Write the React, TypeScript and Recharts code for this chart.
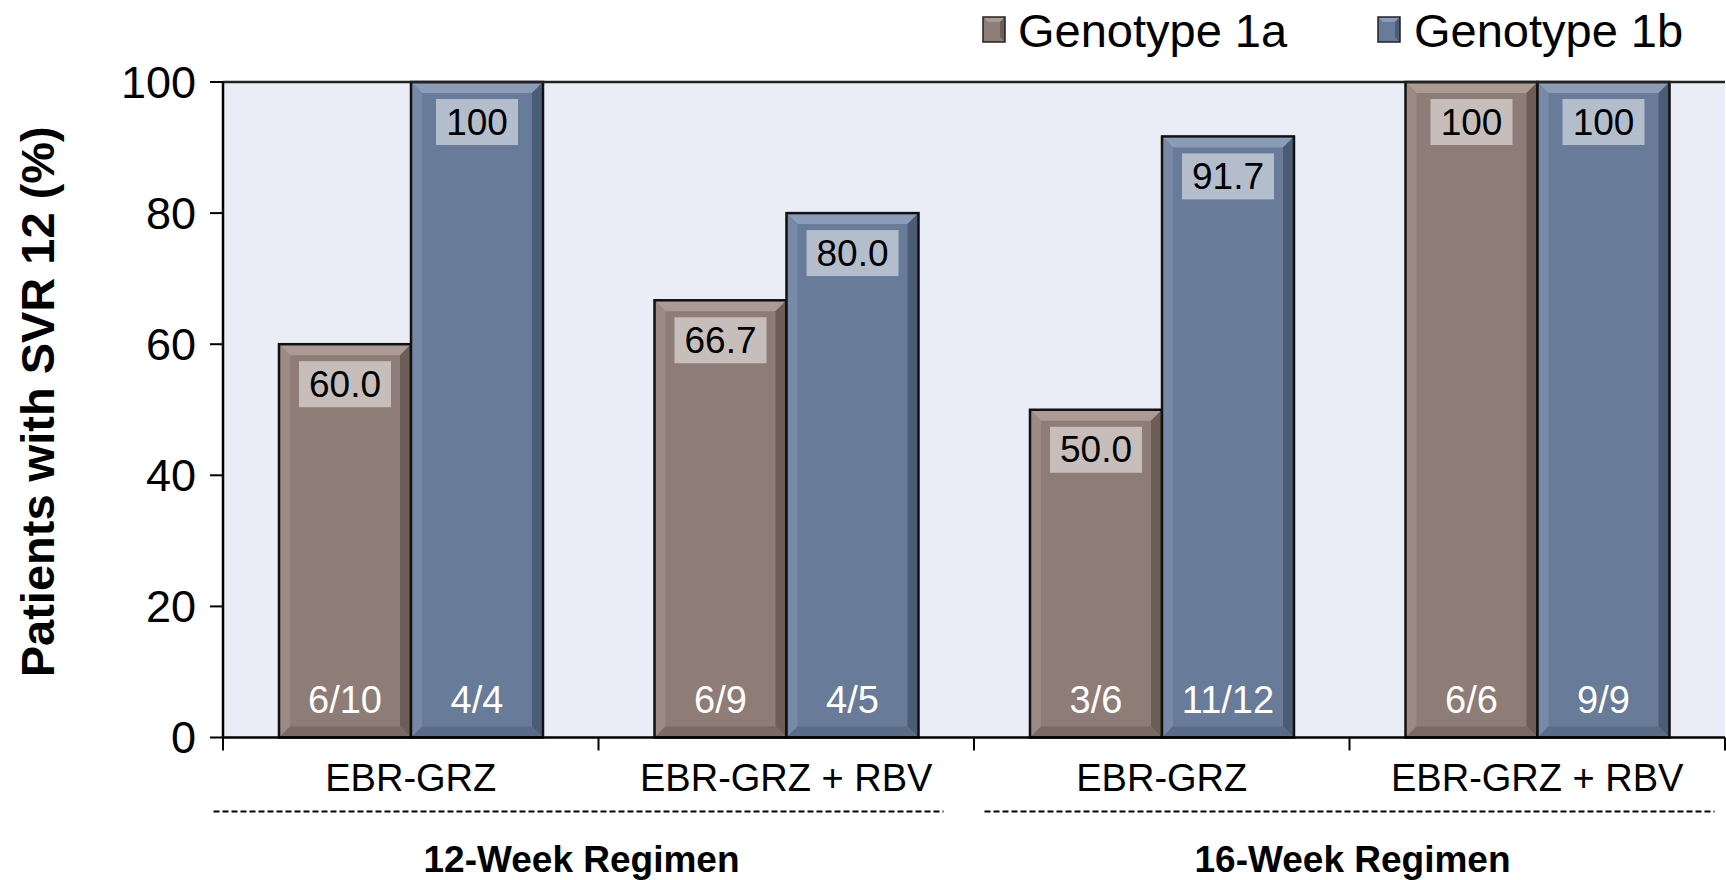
import React from 'react';
import { BarChart, Bar, XAxis, YAxis, CartesianGrid, Legend, LabelList, ReferenceLine } from 'recharts';

const categories = ['EBR-GRZ', 'EBR-GRZ + RBV', 'EBR-GRZ', 'EBR-GRZ + RBV'];
const regimens = ['12-Week Regimen', '12-Week Regimen', '16-Week Regimen', '16-Week Regimen'];
const genotype1a = [60.0, 66.7, 50.0, 100];
const genotype1b = [100, 80.0, 91.7, 100];
const ratio1a = ['6/10', '6/9', '3/6', '6/6'];
const ratio1b = ['4/4', '4/5', '11/12', '9/9'];
const yTicks = [0, 20, 40, 60, 80, 100];
const boundaryTicks = [0, 1, 2, 3, 4];
const seriesNames = ['Genotype 1a', 'Genotype 1b'];

const data = categories.map((c, i) => ({
  category: c,
  regimen: regimens[i],
  pos: i + 0.5,
  g1a: genotype1a[i],
  g1b: genotype1b[i],
  r1a: ratio1a[i],
  r1b: ratio1b[i],
}));

const FONT = "'Liberation Sans', Arial, Helvetica, sans-serif";
const NARROW = "'Liberation Sans Narrow', 'Arial Narrow', 'Liberation Sans', sans-serif";

const BROWN = { main: '#8e7c76', top: '#ac9b95', left: '#9c8a84', right: '#6c5d58', bottom: '#7a6a65' };
const BLUE = { main: '#687b99', top: '#8c9cb8', left: '#7789a6', right: '#4d5c75', bottom: '#5b6c88' };

const makeBevel = (c: any) => (props: any) => {
  const { x, y, width: w, height: h } = props;
  if (!h || h <= 0) return null;
  const b = 11;
  return (
    <g>
      <rect x={x} y={y} width={w} height={h} fill={c.main} />
      <polygon points={`${x},${y} ${x + w},${y} ${x + w - b},${y + b} ${x + b},${y + b}`} fill={c.top} />
      <polygon points={`${x},${y} ${x + b},${y + b} ${x + b},${y + h - b} ${x},${y + h}`} fill={c.left} />
      <polygon points={`${x + w},${y} ${x + w},${y + h} ${x + w - b},${y + h - b} ${x + w - b},${y + b}`} fill={c.right} />
      <polygon points={`${x},${y + h} ${x + w},${y + h} ${x + w - b},${y + h - b} ${x + b},${y + h - b}`} fill={c.bottom} />
      <rect x={x} y={y} width={w} height={h} fill="none" stroke="#111" strokeWidth={2.5} />
    </g>
  );
};

const ValueLabel = (props: any) => {
  const { x, y, width, value } = props;
  const text = value === 100 ? '100' : Number(value).toFixed(1);
  const digits = text.replace('.', '').length;
  const bw = digits * 21 + (text.includes('.') ? 10 : 0) + 19;
  const bh = 46;
  const cx = x + width / 2;
  const top = y + 17;
  return (
    <g>
      <rect x={cx - bw / 2} y={top} width={bw} height={bh} fill="#ffffff" fillOpacity={0.5} />
      <text x={cx} y={top + bh / 2} textAnchor="middle" dominantBaseline="central" fontSize={37} fontFamily={FONT} fill="#000">
        {text}
      </text>
    </g>
  );
};

const RatioLabel = (props: any) => {
  const { x, y, width, height, value } = props;
  return (
    <text x={x + width / 2} y={y + height - 38} textAnchor="middle" dominantBaseline="central" fontSize={38} fontFamily={FONT} fill="#ffffff">
      {value}
    </text>
  );
};

const CategoryTick = (props: any) => {
  const { x, y, payload } = props;
  return (
    <text x={x} y={y + 39} textAnchor="middle" dominantBaseline="central" fontSize={38} fontFamily={NARROW} fill="#000">
      {payload.value}
    </text>
  );
};

const EmptyTick = () => <g />;

const groupOffsets = [-20, 0];
const GroupTick = (props: any) => {
  const { x, y, payload, index } = props;
  const dx = groupOffsets[index] || 0;
  const cx = x + dx;
  return (
    <g>
      <line x1={cx - 365} x2={cx + 365} y1={y + 12} y2={y + 12} stroke="#000" strokeWidth={2} strokeDasharray="6 3" />
      <text x={cx + 3} y={y + 60} textAnchor="middle" dominantBaseline="central" fontSize={37} fontWeight="bold" fontFamily={FONT} fill="#000">
        {payload.value}
      </text>
    </g>
  );
};

const legendMarkerX = [983, 1378];
const legendTextX = [1018, 1414];
const legendColors = [BROWN, BLUE];

const LegendContent = (props: any) => {
  const { payload } = props;
  return (
    <div style={{ position: 'relative', height: 0 }}>
      <svg width={1726} height={70} style={{ position: 'absolute', left: 0, top: 0, overflow: 'visible' }}>
        {(payload || []).map((p: any, i: number) => {
          const c = legendColors[i];
          const mx = legendMarkerX[i];
          const my = 17;
          const w = 22;
          const h = 25;
          const b = 5;
          return (
            <g key={i}>
              <rect x={mx} y={my} width={w} height={h} fill={c.main} />
              <polygon points={`${mx},${my} ${mx + w},${my} ${mx + w - b},${my + b} ${mx + b},${my + b}`} fill={c.top} />
              <polygon points={`${mx + w},${my} ${mx + w},${my + h} ${mx + w - b},${my + h - b} ${mx + w - b},${my + b}`} fill={c.right} />
              <rect x={mx} y={my} width={w} height={h} fill="none" stroke="#222" strokeWidth={1.5} />
              <text x={legendTextX[i]} y={my + h / 2 + 1} dominantBaseline="central" fontSize={47} fontFamily={FONT} fill="#000">
                {p.value}
              </text>
            </g>
          );
        })}
      </svg>
    </div>
  );
};

const YLabel = (props: any) => {
  const { viewBox } = props;
  const cy = viewBox.y + viewBox.height / 2 - 8;
  const cx = 37;
  return (
    <text x={cx} y={cy} transform={`rotate(-90, ${cx}, ${cy})`} textAnchor="middle" dominantBaseline="central" fontSize={47} fontWeight="bold" fontFamily={FONT} fill="#000">
      Patients with SVR 12 (%)
    </text>
  );
};

export default function App() {
  return (
    <div style={{ position: 'fixed', left: 0, top: 0, width: 1726, height: 880, background: '#fff' }}>
      <BarChart width={1726} height={880} data={data} margin={{ top: 82, right: 1, bottom: 0, left: 0 }} barGap={0} barSize={132}>
        <CartesianGrid horizontal={false} vertical={false} fill="#eaedf5" xAxisId="b_cat" />
        <XAxis
          xAxisId="a_grid"
          dataKey="pos"
          type="number"
          domain={[0, 4]}
          ticks={boundaryTicks}
          tick={<EmptyTick />}
          tickSize={13}
          height={1}
          interval={0}
          axisLine={{ stroke: '#000', strokeWidth: 2.5 }}
          tickLine={{ stroke: '#000', strokeWidth: 2 }}
        />
        <XAxis
          xAxisId="b_cat"
          dataKey="category"
          axisLine={false}
          tickLine={false}
          tickSize={0}
          tickMargin={0}
          height={61}
          interval={0}
          tick={<CategoryTick />}
        />
        <XAxis
          xAxisId="c_grp"
          dataKey="regimen"
          allowDuplicatedCategory={false}
          axisLine={false}
          tickLine={false}
          tickSize={0}
          tickMargin={0}
          height={80.5}
          interval={0}
          tick={<GroupTick />}
        />
        <YAxis
          domain={[0, 100]}
          ticks={yTicks}
          width={223}
          tickSize={13}
          tickMargin={14}
          axisLine={{ stroke: '#000', strokeWidth: 2.5 }}
          tickLine={{ stroke: '#000', strokeWidth: 2 }}
          tick={{ fontSize: 45, fill: '#000', fontFamily: FONT }}
          label={<YLabel />}
        />
        <ReferenceLine xAxisId="b_cat" y={100} stroke="#222" strokeWidth={2.5} />
        <Legend verticalAlign="top" wrapperStyle={{ top: 0, left: 0, width: 1726, height: 0 }} content={<LegendContent />} />
        <Bar xAxisId="b_cat" dataKey="g1a" name={seriesNames[0]} fill={BROWN.main} shape={makeBevel(BROWN)} isAnimationActive={false}>
          <LabelList dataKey="g1a" content={<ValueLabel />} />
          <LabelList dataKey="r1a" content={<RatioLabel />} />
        </Bar>
        <Bar xAxisId="b_cat" dataKey="g1b" name={seriesNames[1]} fill={BLUE.main} shape={makeBevel(BLUE)} isAnimationActive={false}>
          <LabelList dataKey="g1b" content={<ValueLabel />} />
          <LabelList dataKey="r1b" content={<RatioLabel />} />
        </Bar>
      </BarChart>
    </div>
  );
}
